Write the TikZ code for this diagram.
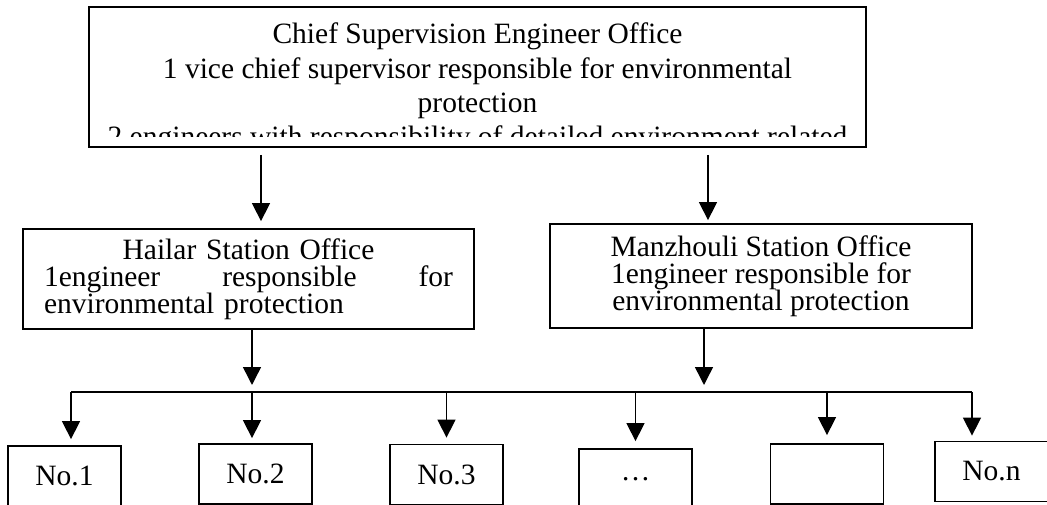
\documentclass[tikz,border=0pt]{standalone}
\usepackage{fontspec}
\setmainfont{Liberation Serif}
\usetikzlibrary{arrows.meta}

\tikzset{
 box/.style={draw, line width=1.8pt, rectangle, inner sep=0pt},
 nbox/.style={box, minimum width=113pt, minimum height=60pt},
 arr/.style={line width=1.5pt, -{Triangle[width=18pt,length=18pt]}},
}

\begin{document}
\begin{tikzpicture}[x=1pt, y=-1pt, font={\fontsize{29.5}{34.3}\selectfont}]
 \useasboundingbox (0,0) rectangle (1047,505);
 \clip (0,0) rectangle (1047,505);

 \path coordinate (A1) at (261,0)
  coordinate (A2) at (708,0)
  coordinate (B1) at (252,0)
  coordinate (B2) at (704,0)
  coordinate (BL) at (71,392)
  coordinate (BR) at (972,392);

 \node[box, minimum width=777pt, minimum height=140pt] (chief) at (477.5,77) {};
 \begin{scope}
  \clip (89,7) rectangle (866,137);
  \node[anchor=north, align=center, inner sep=0pt] (chieftext) at (477.5,23)
   {Chief Supervision Engineer Office\\
    1 vice chief supervisor responsible for environmental\\
    protection\\
    2 engineers with responsibility of detailed environment related};
 \end{scope}

 \node[box, inner xsep=21pt, text width=409pt, align=left, minimum height=100pt,
  font={\fontsize{29.5}{27}\selectfont}] (hailar) at (248.5,279)
  {\hfill Hailar Station Office\hfill\null\\
   1engineer\hfill responsible\hfill for\\
   environmental protection};
 \node[box, align=center, minimum width=422pt, minimum height=104pt,
  font={\fontsize{29.5}{27}\selectfont}] (manz) at (761,276)
  {Manzhouli Station Office\\
   1engineer responsible for\\
   environmental protection};

 \node[nbox] (no1) at (64.5,476) {No.1};
 \node[nbox] (no2) at (255.5,474) {No.2};
 \node[nbox] (no3) at (446.5,474.5) {No.3};
 \node[nbox] (dots) at (635.5,479) {…};
 \node[nbox] (blank) at (827,474) {};
 \node[nbox] (non) at (991.5,471.5) {No.n};

 \draw[arr, shorten <=7pt, shorten >=7pt] (chief.south -| A1) -- (hailar.north -| A1);
 \draw[arr, shorten <=7pt, shorten >=3pt] (chief.south -| A2) -- (manz.north -| A2);

 \draw[arr, shorten >=7pt] (hailar.south -| B1) -- (BL -| B1);
 \draw[arr, shorten >=7pt] (manz.south -| B2) -- (BL -| B2);

 \draw[line width=1.8pt] (BL) -- (BR);

 \draw[arr, shorten >=6pt] (BL) -- (no1.north -| BL);
 \draw[arr, shorten >=5pt] (BL -| B1) -- (no2.north -| B1);
 \draw[arr, shorten >=6pt] (no3.north |- BL) -- (no3.north);
 \draw[arr, shorten >=7pt] (dots.north |- BL) -- (dots.north);
 \draw[arr, shorten >=8pt] (blank.north |- BL) -- (blank.north);
 \draw[arr, shorten >=5pt] (BR) -- (non.north -| BR);
\end{tikzpicture}
\end{document}
